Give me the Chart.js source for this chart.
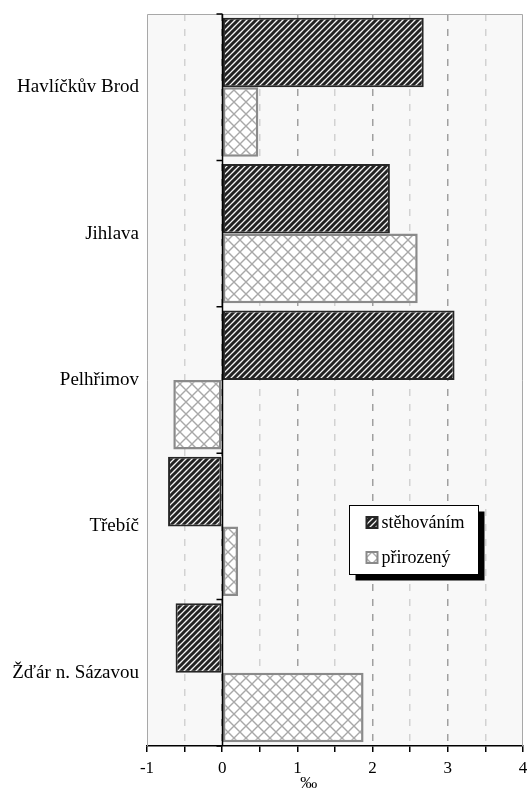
<!DOCTYPE html>
<html>
<head>
<meta charset="utf-8">
<script src="https://cdn.jsdelivr.net/npm/chart.js@4.4.1/dist/chart.umd.min.js"></script>
<style>
    html, body { margin: 0; padding: 0; background: #fff; }
    #wrap { width: 528px; height: 791px; }
</style>
</head>
<body>
<div id="wrap"><canvas id="chartOkresy"></canvas></div>
<script>
var districts = ["Havlíčkův Brod", "Jihlava", "Pelhřimov", "Třebíč", "Žďár n. Sázavou"];
var migration = [2.68, 2.23, 3.09, -0.72, -0.62];
var natural = [0.48, 2.60, -0.65, 0.21, 1.88];
var seriesNames = ["stěhováním", "přirozený"];
var xTicks = [-1, 0, 1, 2, 3, 4];
var axisUnit = "‰";

var serif = "'Liberation Serif', 'Times New Roman', serif";

// vzorky vyplne
function stripePattern() {
    var c = document.createElement("canvas");
    c.width = 6;
    c.height = 6;
    var g = c.getContext("2d");
    g.fillStyle = "#f4f4f4";
    g.fillRect(0, 0, 6, 6);
    g.strokeStyle = "#222";
    g.lineWidth = 3;
    g.beginPath();
    g.moveTo(-1, 7); g.lineTo(7, -1);
    g.moveTo(-4, 4); g.lineTo(4, -4);
    g.moveTo(2, 10); g.lineTo(10, 2);
    g.stroke();
    return g.createPattern(c, "repeat");
}

function crossPattern() {
    var c = document.createElement("canvas");
    c.width = 12;
    c.height = 12;
    var g = c.getContext("2d");
    g.fillStyle = "#ffffff";
    g.fillRect(0, 0, 12, 12);
    g.strokeStyle = "#a8a8a8";
    g.lineWidth = 1.4;
    g.beginPath();
    g.moveTo(0, 0); g.lineTo(12, 12);
    g.moveTo(0, 12); g.lineTo(12, 0);
    g.stroke();
    return g.createPattern(c, "repeat");
}

var darkFill = stripePattern();
var lightFill = crossPattern();
var darkBorder = "#262626";
var lightBorder = "#8a8a8a";

// pozadi, ram, osa v nule, popisek osy a legenda
var decorPlugin = {
    id: "decor",
    beforeDraw: function (chart) {
        var ca = chart.chartArea;
        var ctx = chart.ctx;
        ctx.save();
        ctx.fillStyle = "#f8f8f8";
        ctx.fillRect(ca.left, ca.top, ca.right - ca.left, ca.bottom - ca.top);
        ctx.restore();
    },
    afterDraw: function (chart) {
        var ca = chart.chartArea;
        var ctx = chart.ctx;
        var xs = chart.scales.x;
        var ys = chart.scales.y;

        ctx.save();
        // ram
        ctx.strokeStyle = "#a8a8a8";
        ctx.lineWidth = 1;
        ctx.beginPath();
        ctx.moveTo(ca.left + 0.5, ca.bottom);
        ctx.lineTo(ca.left + 0.5, ca.top + 0.5);
        ctx.lineTo(ca.right - 0.5, ca.top + 0.5);
        ctx.lineTo(ca.right - 0.5, ca.bottom);
        ctx.stroke();

        // svisla osa v nule
        var x0 = Math.round(xs.getPixelForValue(0)) + 0.5;
        ctx.strokeStyle = "#000";
        ctx.lineWidth = 1.5;
        ctx.beginPath();
        ctx.moveTo(x0, ca.top);
        ctx.lineTo(x0, ca.bottom);
        for (var i = 0; i <= districts.length; i++) {
            var yb = ys.getPixelForValue(i - 0.5);
            ctx.moveTo(x0 - 6, yb);
            ctx.lineTo(x0, yb);
        }
        ctx.stroke();

        // popisek osy x
        ctx.fillStyle = "#000";
        ctx.font = "17px " + serif;
        ctx.textAlign = "center";
        ctx.textBaseline = "middle";
        ctx.fillText(axisUnit, xs.getPixelForValue(1.15), 784);

        // legenda
        var bx = Math.round(ca.left + (ca.right - ca.left) * 0.537) + 0.5;
        var by = Math.round(ca.top + (ca.bottom - ca.top) * 0.671) + 0.5;
        var bw = 129, bh = 69;
        ctx.fillStyle = "#000";
        ctx.fillRect(bx + 6, by + 6, bw, bh);
        ctx.fillStyle = "#fff";
        ctx.fillRect(bx, by, bw, bh);
        ctx.strokeStyle = "#000";
        ctx.lineWidth = 1;
        ctx.strokeRect(bx, by, bw, bh);

        var fills = [darkFill, lightFill];
        var borders = [darkBorder, lightBorder];
        var rows = [17, 52];
        ctx.font = "18px " + serif;
        ctx.textAlign = "left";
        for (var k = 0; k < seriesNames.length; k++) {
            var sy = by + rows[k];
            ctx.fillStyle = fills[k];
            ctx.fillRect(bx + 17, sy - 5.5, 11, 11);
            ctx.strokeStyle = borders[k];
            ctx.lineWidth = 2;
            ctx.strokeRect(bx + 17, sy - 5.5, 11, 11);
            ctx.fillStyle = "#000";
            ctx.fillText(seriesNames[k], bx + 32, sy + 1);
        }
        ctx.restore();
    }
};

new Chart(document.getElementById("chartOkresy"), {
    type: "bar",
    data: {
        labels: districts,
        datasets: [
            {
                label: seriesNames[0],
                data: migration,
                backgroundColor: darkFill,
                borderColor: darkBorder,
                borderWidth: 2,
                borderSkipped: false,
            },
            {
                label: seriesNames[1],
                data: natural,
                backgroundColor: lightFill,
                borderColor: lightBorder,
                borderWidth: 2.5,
                borderSkipped: false,
            },
        ],
    },
    options: {
        indexAxis: "y",
        responsive: true,
        maintainAspectRatio: false,
        animation: false,
        layout: {
            padding: { top: 14, right: 5, left: 0, bottom: 0 },
        },
        datasets: {
            bar: {
                categoryPercentage: 0.95,
                barPercentage: 1,
            },
        },
        plugins: {
            legend: { display: false },
            tooltip: { enabled: false },
        },
        scales: {
            x: {
                type: "linear",
                min: xTicks[0],
                max: xTicks[xTicks.length - 1],
                afterFit: function (scale) {
                    scale.height = 45;
                    scale.paddingLeft = 0;
                    scale.paddingRight = 0;
                },
                ticks: {
                    stepSize: 0.5,
                    padding: 6,
                    color: "#000",
                    font: { family: serif, size: 17 },
                    callback: function (value) {
                        return xTicks.indexOf(value) >= 0 ? String(value) : "";
                    },
                },
                grid: {
                    color: function (ctx) {
                        var v = ctx.tick ? ctx.tick.value : 0;
                        if (v === xTicks[0] || v === xTicks[xTicks.length - 1]) return "rgba(0,0,0,0)";
                        return Number.isInteger(v) ? "#a0a0a0" : "#d2d2d2";
                    },
                    lineWidth: 1.5,
                    tickColor: "#000",
                    tickLength: 6,
                    tickWidth: 1.5,
                    tickBorderDash: [],
                },
                border: {
                    display: true,
                    color: "#000",
                    width: 1.5,
                    dash: [7, 8],
                },
            },
            y: {
                type: "category",
                afterFit: function (scale) {
                    scale.width = 147;
                    scale.paddingTop = 0;
                    scale.paddingBottom = 0;
                },
                grid: { display: false },
                border: { display: false },
                ticks: {
                    padding: 0,
                    color: "#000",
                    font: { family: serif, size: 19 },
                },
            },
        },
    },
    plugins: [decorPlugin],
});
</script>
</body>
</html>
